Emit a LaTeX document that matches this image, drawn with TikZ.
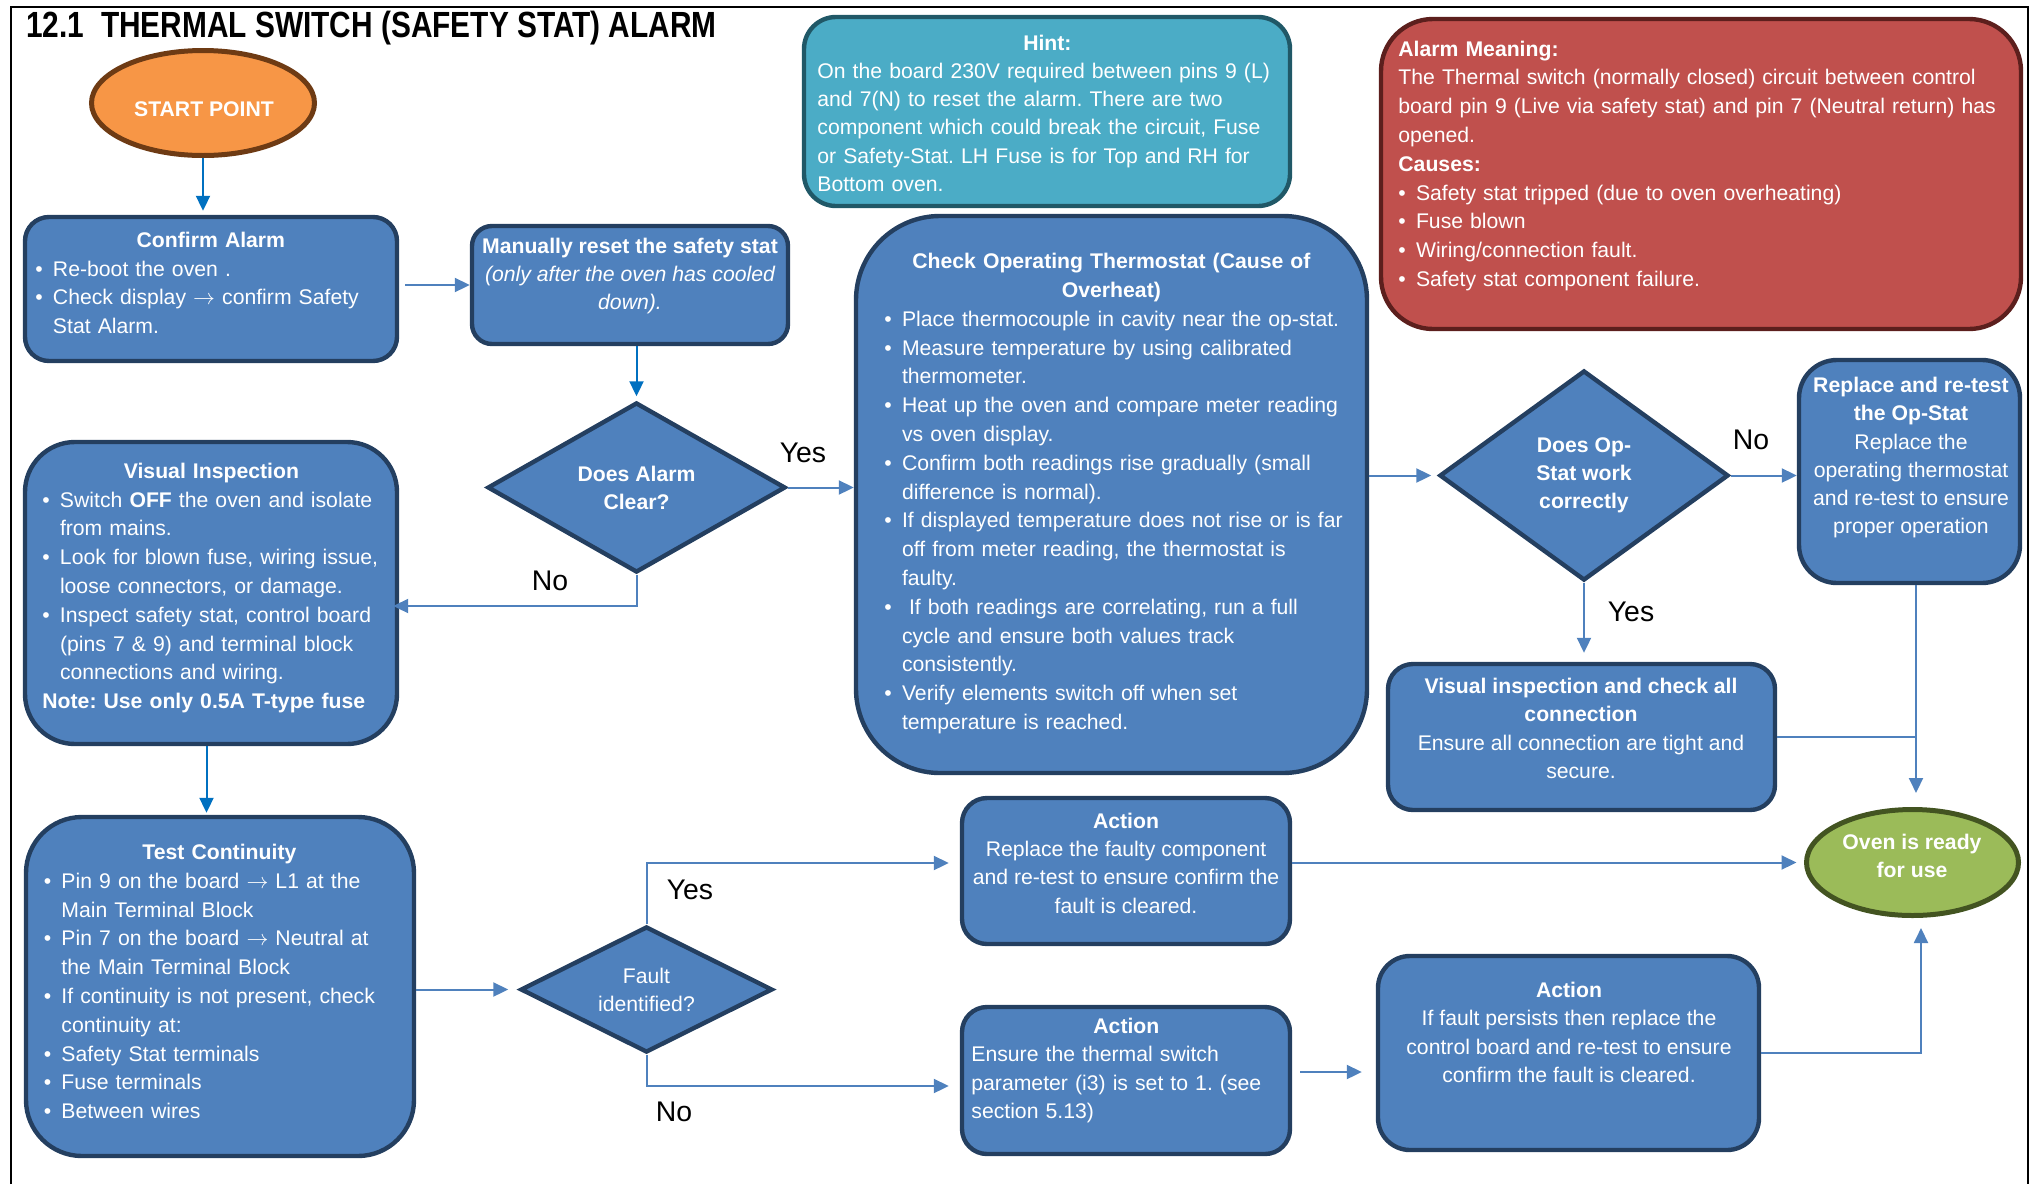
\documentclass[tikz,border=0pt]{standalone}
\usepackage{fontspec}
\setmainfont{Liberation Sans}
\usetikzlibrary{shapes.geometric,arrows.meta,calc}
\definecolor{boxblue}{HTML}{4F81BD}
\definecolor{boxedge}{HTML}{243F60}
\definecolor{hintfill}{HTML}{4BACC6}
\definecolor{hintedge}{HTML}{205867}
\definecolor{redfill}{HTML}{C0504D}
\definecolor{rededge}{HTML}{5C1F1D}
\definecolor{orangefill}{HTML}{F79646}
\definecolor{orangeedge}{HTML}{6E3B14}
\definecolor{greenfill}{HTML}{9BBB59}
\definecolor{greenedge}{HTML}{435421}
\definecolor{arrowblue}{HTML}{4F81BD}
\definecolor{brightblue}{HTML}{0070C0}
\newcommand\bul{\makebox[8.8pt][l]{•}}
\newcommand\ind{\hspace*{8.8pt}}
\newcommand\ttl[2]{\makebox[#1][c]{\bfseries #2}}
\newcommand\arr{$\rightarrow$}
\frenchspacing
\begin{document}
\begin{tikzpicture}[x=0.5pt,y=-0.5pt,
  pbox/.style={draw=boxedge, fill=boxblue, line width=2.2pt, inner sep=0pt},
  diam/.style={diamond, draw=boxedge, fill=boxblue, line width=2.2pt, inner sep=0pt, align=center, text=white,
     font=\fontsize{10.6}{14}\selectfont},
  txt/.style={text=white, inner sep=0pt, font=\fontsize{10.6}{14.4}\selectfont},
  txtc/.style={text=white, inner sep=0pt, align=center, font=\fontsize{10.6}{14.1}\selectfont},
  lbl/.style={text=black, inner sep=0pt, font=\fontsize{14.2}{16}\selectfont},
  conn/.style={draw=arrowblue, line width=1pt, -{Triangle[length=7.5pt,width=7pt]}},
  connb/.style={draw=brightblue, line width=1pt, -{Triangle[length=7.5pt,width=7pt]}},
  plain/.style={draw=arrowblue, line width=1pt}
]
\useasboundingbox (0,0) rectangle (2035,1184);
% frame
\draw[line width=1.2pt] (11,1184) -- (11,7) -- (2028,7) -- (2028,1184);

% title
\node[anchor=base west, inner sep=0pt, font=\fontsize{18.2}{20}\selectfont\bfseries] (title) at (26,37)
  {\scalebox{0.82}[1]{12.1\ \ THERMAL SWITCH (SAFETY STAT) ALARM}};

% start
\node[ellipse, draw=orangeedge, fill=orangefill, line width=2.5pt, minimum width=111.5pt, minimum height=52.5pt, inner sep=0pt] (start) at (203,103) {};
\node[txt, font=\fontsize{10.6}{14}\selectfont\bfseries] (starttxt) at (204,109.5) {START POINT};

% boxes
\node[pbox, minimum width=186pt, minimum height=72pt, rounded corners=12pt] (confirm) at (211,289) {};
\node[pbox, minimum width=158pt, minimum height=59pt, rounded corners=10pt] (reset) at (630,285) {};
\node[pbox, minimum width=186pt, minimum height=151pt, rounded corners=25pt] (visual) at (211,593) {};
\node[pbox, minimum width=194pt, minimum height=169.5pt, rounded corners=28pt] (test) at (220,986.5) {};
\node[pbox, minimum width=164pt, minimum height=73pt, rounded corners=12.5pt] (action1) at (1126,871) {};
\node[pbox, minimum width=164pt, minimum height=73.5pt, rounded corners=12.5pt] (action2) at (1126,1080.5) {};
\node[pbox, minimum width=190.5pt, minimum height=97pt, rounded corners=16pt] (action3) at (1568.5,1053) {};
\node[draw=hintedge, fill=hintfill, line width=2.2pt, inner sep=0pt, minimum width=243pt, minimum height=94.5pt, rounded corners=16pt] (hint) at (1047,111.5) {};
\node[pbox, minimum width=255.5pt, minimum height=278.5pt, rounded corners=42pt] (thermo) at (1111.5,494.5) {};
\node[draw=rededge, fill=redfill, line width=2.2pt, inner sep=0pt, minimum width=320pt, minimum height=155pt, rounded corners=26pt] (alarm) at (1701,174) {};
\node[pbox, minimum width=110.5pt, minimum height=111.5pt, rounded corners=19pt] (replace) at (1909.5,471.5) {};
\node[pbox, minimum width=193.5pt, minimum height=73pt, rounded corners=12.5pt] (vconn) at (1581.5,737) {};
\node[ellipse, draw=greenedge, fill=greenfill, line width=2.5pt, minimum width=106pt, minimum height=53pt, inner sep=0pt] (oven) at (1912.5,862.5) {};

% diamonds
\node[diam, minimum width=149pt, minimum height=85pt, aspect=1.75, font=\fontsize{10.6}{14}\selectfont\bfseries] (dalarm) at (636.5,487.5) {Does Alarm\\Clear?};
\node[diam, minimum width=144.5pt, minimum height=105pt, aspect=1.38, font=\fontsize{10.6}{14}\selectfont\bfseries] (dopstat) at (1584,475.5) {Does Op-\\Stat work\\correctly};
\node[diam, minimum width=126pt, minimum height=63pt, aspect=2] (dfault) at (646.5,989.5) {Fault\\identified?};

% texts
\node[txt, anchor=west, text width=200pt, align=left] (confirmtxt) at (35,283) {%
\ttl{175.5pt}{Confirm Alarm}\\
\bul Re-boot the oven .\\
\bul Check display \arr{} confirm Safety\\
\ind Stat Alarm.};

\node[txtc] (resettxt) at (630,276) {{\bfseries Manually reset the safety stat}\\{\itshape (only after the oven has cooled}\\{\itshape down).}};

\node[txt, anchor=west, text width=200pt, align=left] (visualtxt) at (42,588) {%
\ttl{169pt}{Visual Inspection}\\
\bul Switch \textbf{OFF} the oven and isolate\\
\ind from mains.\\
\bul Look for blown fuse, wiring issue,\\
\ind loose connectors, or damage.\\
\bul Inspect safety stat, control board\\
\ind (pins 7 \& 9) and terminal block\\
\ind connections and wiring.\\
\textbf{Note: Use only 0.5A T-type fuse}};

\node[txt, anchor=west, text width=200pt, align=left] (testtxt) at (43.5,981.5) {%
\ttl{175.5pt}{Test Continuity}\\
\bul Pin 9 on the board \arr{} L1 at the\\
\ind Main Terminal Block\\
\bul Pin 7 on the board \arr{} Neutral at\\
\ind the Main Terminal Block\\
\bul If continuity is not present, check\\
\ind continuity at:\\
\bul Safety Stat terminals\\
\bul Fuse terminals\\
\bul Between wires};

\node[txt, anchor=west, text width=250pt, align=left] (thermotxt) at (884,493.6) {%
\ttl{227pt}{Check Operating Thermostat (Cause of}\\
\ttl{227pt}{Overheat)}\\
\bul Place thermocouple in cavity near the op-stat.\\
\bul Measure temperature by using calibrated\\
\ind thermometer.\\
\bul Heat up the oven and compare meter reading\\
\ind vs oven display.\\
\bul Confirm both readings rise gradually (small\\
\ind difference is normal).\\
\bul If displayed temperature does not rise or is far\\
\ind off from meter reading, the thermostat is\\
\ind faulty.\\
\bul\ If both readings are correlating, run a full\\
\ind cycle and ensure both values track\\
\ind consistently.\\
\bul Verify elements switch off when set\\
\ind temperature is reached.};

\node[txt, anchor=west, text width=330pt, align=left] (alarmtxt) at (1398,165.8) {%
\textbf{Alarm Meaning:}\\
The Thermal switch (normally closed) circuit between control\\
board pin 9 (Live via safety stat) and pin 7 (Neutral return) has\\
opened.\\
\textbf{Causes:}\\
\bul Safety stat tripped (due to oven overheating)\\
\bul Fuse blown\\
\bul Wiring/connection fault.\\
\bul Safety stat component failure.};

\node[txt, anchor=west, text width=250pt, align=left, font=\fontsize{10.6}{14.1}\selectfont] (hinttxt) at (817,113.3) {%
\ttl{230pt}{Hint:}\\
On the board 230V required between pins 9 (L)\\
and 7(N) to reset the alarm. There are two\\
component which could break the circuit, Fuse\\
or Safety-Stat. LH Fuse is for Top and RH for\\
Bottom oven.};

\node[txtc] (action1txt) at (1126,863.3) {{\bfseries Action}\\Replace the faulty component\\and re-test to ensure confirm the\\fault is cleared.};

\node[txt, anchor=west, text width=180pt, align=left, font=\fontsize{10.6}{14.1}\selectfont] (action2txt) at (971,1070.5) {%
\ttl{155pt}{Action}\\
Ensure the thermal switch\\
parameter (i3) is set to 1. (see\\
section 5.13)};

\node[txtc] (action3txt) at (1569,1032.5) {{\bfseries Action}\\If fault persists then replace the\\control board and re-test to ensure\\confirm the fault is cleared.};

\node[txtc] (replacetxt) at (1911,457.8) {{\bfseries Replace and re-test}\\{\bfseries the Op-Stat}\\Replace the\\operating thermostat\\and re-test to ensure\\proper operation};

\node[txtc] (vconntxt) at (1581,728.5) {{\bfseries Visual inspection and check all}\\{\bfseries connection}\\Ensure all connection are tight and\\secure.};

\node[txtc, font=\fontsize{10.6}{14}\selectfont\bfseries] (oventxt) at (1912,855.5) {Oven is ready\\for use};

% labels
\node[lbl] (yes1) at (803,453) {Yes};
\node[lbl] (no1) at (550,581) {No};
\node[lbl] (yes2) at (690,890) {Yes};
\node[lbl] (no2) at (674,1112) {No};
\node[lbl] (no3) at (1751,440) {No};
\node[lbl] (yes3) at (1631,612) {Yes};

% connectors
\draw[connb, shorten >=2pt] (start.south) -- (start.south |- confirm.north);
\draw[conn, shorten <=3pt] (reset.west -| confirm.east) -- (reset.west);
\draw[connb, shorten >=2pt] (dalarm.north |- reset.south) -- (dalarm.north);
\draw[conn] (dalarm.east) -- (dalarm.east -| thermo.west);
\draw[conn, shorten >=-3pt] (dalarm.south) |- ([yshift=-6.5pt]visual.east);
\draw[connb, shorten >=1pt] ([xshift=-2.25pt]visual.south) -- ([xshift=-2.25pt]visual.south |- test.north);
\draw[conn, shorten >=5pt] (dfault.west -| test.east) -- (dfault.west);
\draw[conn, shorten >=5.5pt] (dfault.north) |- ([yshift=4pt]action1.west);
\draw[conn, shorten >=5.5pt] (dfault.south) |- ([yshift=-2.75pt]action2.west);
\draw[conn, shorten >=3pt] (dopstat.west -| thermo.east) -- (dopstat.west);
\draw[conn] (dopstat.east) -- (dopstat.east -| replace.west);
\draw[conn, shorten >=4.5pt] (dopstat.south) -- (dopstat.south |- vconn.north);
\draw[conn, shorten >=7pt] ([xshift=3.25pt]replace.south) -- ([xshift=3.25pt]replace.south |- oven.north);
\draw[plain] (vconn.east) -- ([xshift=3.25pt]vconn.east -| replace.south);
\draw[conn, shorten >=3.75pt] (oven.west -| action1.east) -- (oven.west);
\draw[conn, shorten <=4pt, shorten >=7pt] ([yshift=4.25pt]action2.east) -- ([yshift=4.25pt]action2.east -| action3.west);
\draw[conn, shorten >=5pt] (action3.east) -| ([xshift=4.25pt]oven.south);
\end{tikzpicture}
\end{document}
